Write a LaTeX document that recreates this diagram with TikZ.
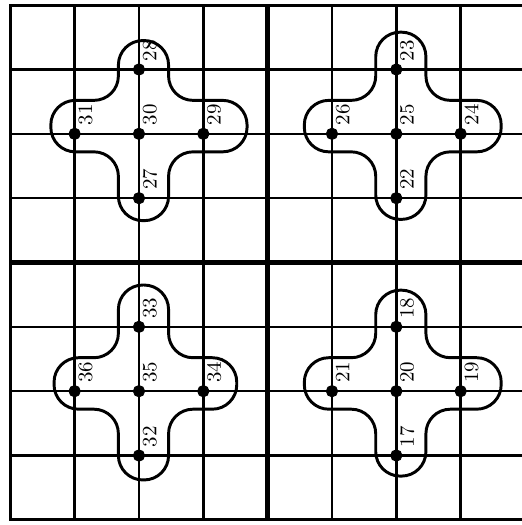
\documentclass[tikz,border=0pt]{standalone}
\usetikzlibrary{positioning}

\begin{document}
\begin{tikzpicture} [dot/.style={draw,circle,fill,inner sep=0pt,minimum size=5pt},
	num/.style={rotate=90,anchor=north west,inner xsep=3.5pt,inner ysep=1.5pt,font=\small},
	gridline/.style={line width=1.1pt},
	frame/.style={line width=1.4pt},
	midline/.style={line width=2.2pt},
	blob/.style={line width=1.3pt,rounded corners=0.38cm}]
\def\xmax{7.95}
\def\ymax{8}
\def\xa{-0.32}
\def\xb{0.46}
\def\ya{-0.28}
\def\yb{0.52}

\useasboundingbox (-0.16,-0.08) rectangle (7.95,8.08);

\foreach \x in {1,2,3,5,6,7}
	\draw[gridline](\x,0)--(\x,\ymax);
\foreach \y in {1,2,3,5,6,7}
	\draw[gridline](0,\y)--(\xmax,\y);
\draw[frame] (\xmax,\ymax)--(0,\ymax)--(0,0)--(\xmax,0);
\draw[midline] (4,0)--(4,\ymax);
\draw[midline] (0,4)--(\xmax,4);

% crosses round the five points: centre / top / right / bottom / left reach
\foreach \cx/\cy/\t/\r/\b/\lf in {2/6/1.45/1.68/1.35/1.37,6/6/1.58/1.63/1.33/1.43,
	2/2/1.65/1.52/1.38/1.32,6/2/1.57/1.63/1.32/1.43}
	\draw[blob,shift={(\cx,\cy)}] (0.07,\t)--(\xb,\t)--(\xb,\yb)--(\r,\yb)--(\r,\ya)--(\xb,\ya)--(\xb,-\b)
		--(\xa,-\b)--(\xa,\ya)--(-\lf,\ya)--(-\lf,\yb)--(\xa,\yb)--(\xa,\t)--(0.07,\t);

\foreach \n/\x/\y in {30/2/6,28/2/7,29/3/6,27/2/5,31/1/6,
	25/6/6,23/6/7,24/7/6,22/6/5,26/5/6,
	35/2/2,33/2/3,34/3/2,32/2/1,36/1/2,
	20/6/2,18/6/3,19/7/2,17/6/1,21/5/2}{
	\node[dot] (p\n) at (\x,\y) {};
	\node[num] (l\n) at (p\n.center) {\n};
}

\end{tikzpicture}
\end{document}
